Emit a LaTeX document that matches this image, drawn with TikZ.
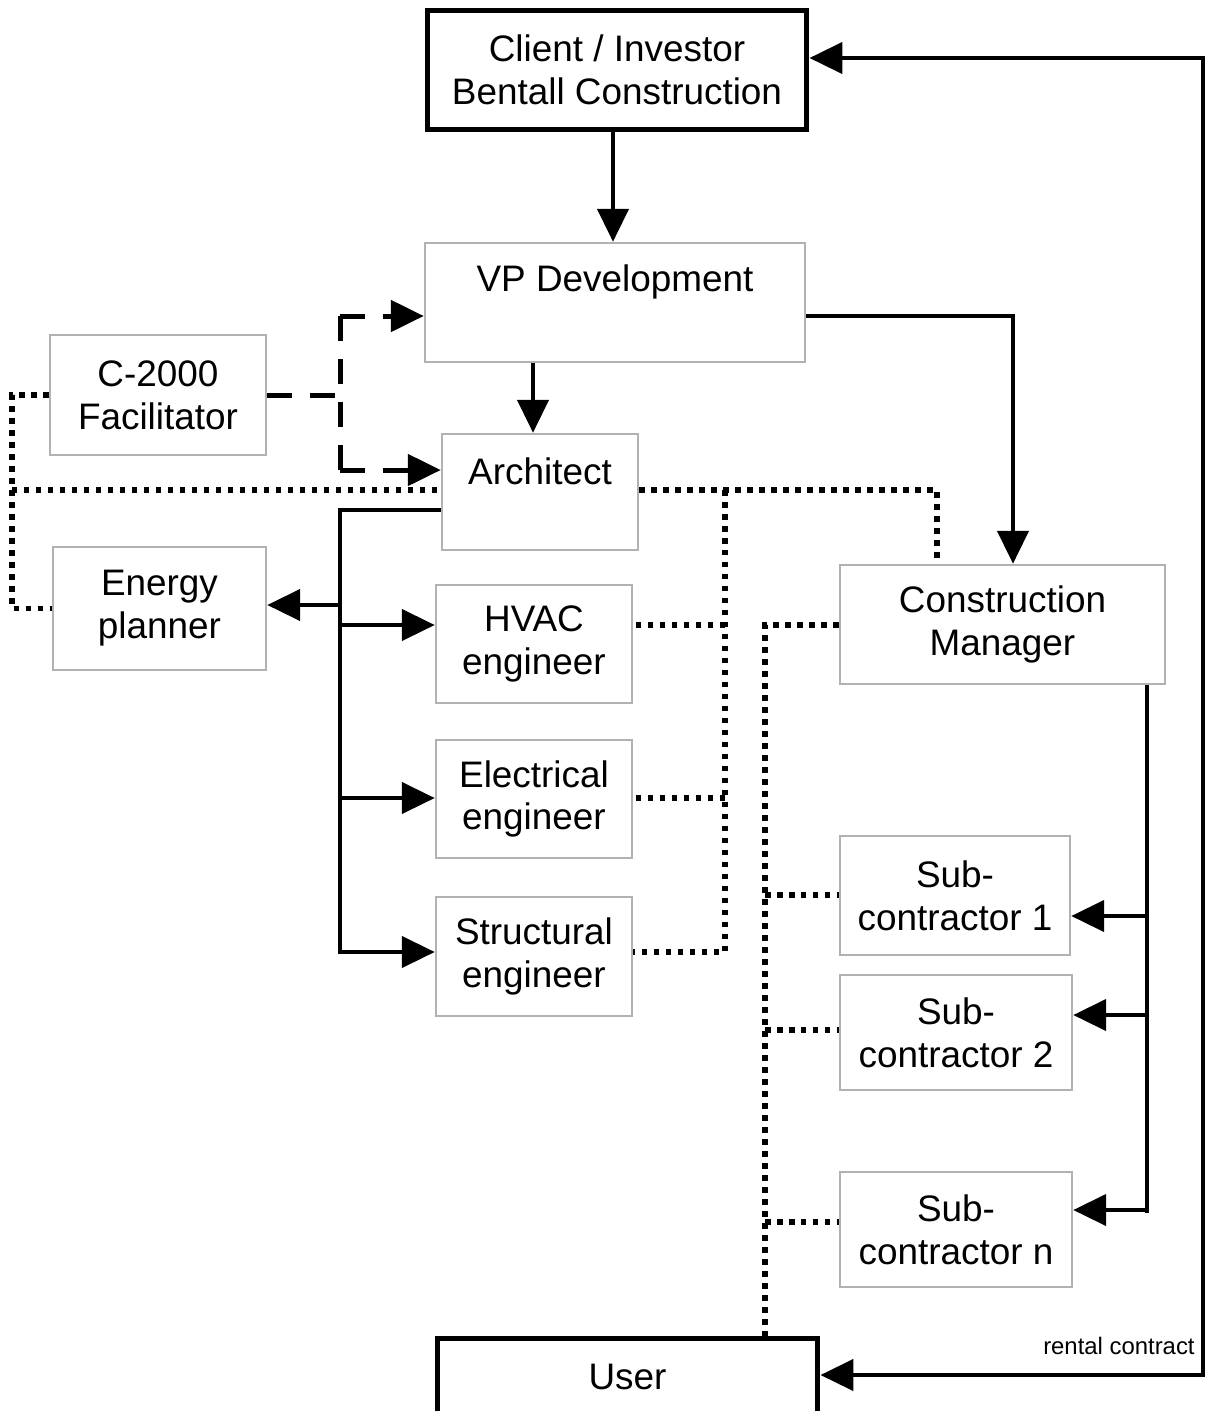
\documentclass[tikz,border=0pt]{standalone}
\usepackage{fontspec}
\setmainfont{Liberation Sans}
\usetikzlibrary{arrows.meta}
\tikzset{
  gbox/.style={draw=gray!60, line width=0.05cm, inner sep=0pt, align=center,
    font=\fontsize{21pt}{24.4pt}\selectfont},
  kbox/.style={draw=black, line width=0.1cm, inner sep=0pt, align=center,
    font=\fontsize{21pt}{24.4pt}\selectfont},
  txt/.style={inner sep=0pt, align=center, font=\fontsize{21pt}{24.4pt}\selectfont},
  solidline/.style={draw=black, line width=0.09cm},
  arr/.style={solidline, -{Triangle[length=0.66cm,width=0.62cm]}},
  dualarr/.style={solidline, {Triangle[length=0.66cm,width=0.62cm]}-{Triangle[length=0.66cm,width=0.62cm]}},
  dotline/.style={draw=black, line width=0.11cm, dash pattern=on 0.11cm off 0.13cm},
  dashline/.style={draw=black, line width=0.1cm, dash pattern=on 0.5cm off 0.36cm},
  dasharr/.style={dashline, -{Triangle[length=0.66cm,width=0.62cm]}},
}
\begin{document}
\begin{tikzpicture}[x=0.02cm, y=-0.02cm]
\useasboundingbox (0,0) rectangle (1206,1411);

% boxes
\node[kbox, minimum width=7.6cm, minimum height=2.4cm] (client) at (617,70) {Client / Investor\\Bentall Construction};
\node[gbox, minimum width=7.6cm, minimum height=2.38cm] (vp) at (615,302.5) {};
\node[txt] (vpt) at (615,282) {VP Development};
\node[gbox, minimum width=4.32cm, minimum height=2.4cm] (c2k) at (158,395) {C-2000\\Facilitator};
\node[gbox, minimum width=3.92cm, minimum height=2.32cm] (arch) at (540,492) {};
\node[txt] (archt) at (540,471) {Architect};
\node[gbox, minimum width=4.26cm, minimum height=2.46cm] (energy) at (159.5,608.5) {Energy\\planner};
\node[gbox, minimum width=3.92cm, minimum height=2.36cm] (hvac) at (534,644) {HVAC\\engineer};
\node[gbox, minimum width=3.92cm, minimum height=2.36cm] (elec) at (534,799) {Electrical\\engineer};
\node[gbox, minimum width=3.92cm, minimum height=2.38cm] (struct) at (534,956.5) {Structural\\engineer};
\node[gbox, minimum width=6.5cm, minimum height=2.38cm] (cm) at (1002.5,624.5) {Construction\\Manager};
\node[gbox, minimum width=4.6cm, minimum height=2.38cm] (sub1) at (955,895.5) {Sub-\\contractor 1};
\node[gbox, minimum width=4.64cm, minimum height=2.3cm] (sub2) at (956,1032.5) {Sub-\\contractor 2};
\node[gbox, minimum width=4.64cm, minimum height=2.3cm] (subn) at (956,1229.5) {Sub-\\contractor n};
\node[kbox, minimum width=7.62cm, minimum height=1.56cm] (user) at (627.5,1377) {User};
\node[inner sep=0pt, anchor=base east, font=\fontsize{13.6pt}{16pt}\selectfont] (rent) at (1195,1354) {rental contract};

% junction coordinates
\coordinate (jA) at (1013,316);
\coordinate (xB) at (533,400);
\coordinate (xC) at (613,180);
\coordinate (jD1) at (340,316);
\coordinate (jD2) at (340,470);
\coordinate (jE1) at (12,394);
\coordinate (jE3) at (12,490);
\coordinate (tA) at (340,510);
\coordinate (tE) at (340,605);
\coordinate (tH) at (340,625);
\coordinate (tL) at (340,798);
\coordinate (tS) at (340,952);
\coordinate (dA) at (725,490);
\coordinate (dF) at (937,490);
\coordinate (dH) at (725,625);
\coordinate (dL) at (725,798);
\coordinate (dS) at (725,952);
\coordinate (cM) at (765,625);
\coordinate (c1) at (765,895);
\coordinate (c2) at (765,1030);
\coordinate (cn) at (765,1222);
\coordinate (s1) at (1147,916);
\coordinate (s2) at (1147,1015);
\coordinate (sn) at (1147,1210);
\coordinate (sb) at (1147,1213);
\coordinate (r1) at (1203,58);
\coordinate (r2) at (1203,1375);

% solid connectors
\draw[arr] (client.south -| xC) -- (vp.north -| xC);
\draw[arr] (vp.south -| xB) -- (arch.north -| xB);
\draw[arr] (vp.east |- jA) -- (jA) -- (cm.north -| jA);
\draw[arr] (arch.west |- tA) -- (tA) -- (tS) -- (struct.west |- tS);
\draw[arr] (tE) -- (energy.east |- tE);
\draw[arr] (tH) -- (hvac.west |- tH);
\draw[arr] (tL) -- (elec.west |- tL);
\draw[solidline] (cm.south -| s1) -- (sb);
\draw[arr] (s1) -- (sub1.east |- s1);
\draw[arr] (s2) -- (sub2.east |- s2);
\draw[arr] (sn) -- (subn.east |- sn);
\draw[dualarr] (client.east |- r1) -- (r1) -- (r2) -- (user.east |- r2);

% dashed connectors
\draw[dashline] (c2k.east) -- (c2k.east -| jD1);
\draw[dashline] (jD2) -- (jD1);
\draw[dasharr] (jD1) -- (vp.west |- jD1);
\draw[dasharr] (jD2) -- (arch.west |- jD2);

% dotted connectors
\draw[dotline] (c2k.west) -- (c2k.west -| jE1) -- (energy.west -| jE1) -- (energy.west);
\draw[dotline] (jE3) -- (arch.west |- jE3);
\draw[dotline] (arch.east |- dA) -- (dF) -- (cm.north -| dF);
\draw[dotline] (dA) -- (dS) -- (struct.east |- dS);
\draw[dotline] (dH) -- (hvac.east |- dH);
\draw[dotline] (dL) -- (elec.east |- dL);
\draw[dotline] (cm.west |- cM) -- (cM) -- (user.north -| cM);
\draw[dotline] (c1) -- (sub1.west |- c1);
\draw[dotline] (c2) -- (sub2.west |- c2);
\draw[dotline] (cn) -- (subn.west |- cn);
\end{tikzpicture}
\end{document}
